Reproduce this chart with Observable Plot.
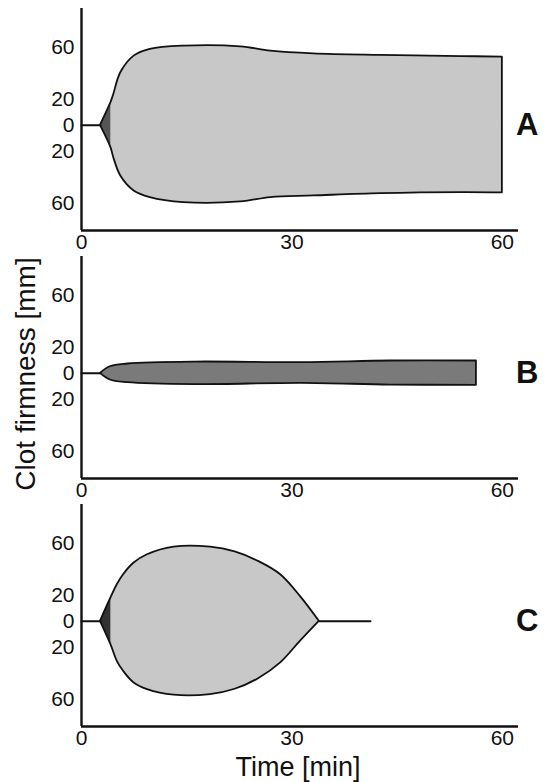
<!DOCTYPE html>
<html>
<head>
<meta charset="utf-8">
<script src="https://cdn.jsdelivr.net/npm/d3@7"></script>
<script src="https://cdn.jsdelivr.net/npm/@observablehq/plot@0.6"></script>
<style>
  html, body { margin: 0; padding: 0; background: #fff; }
  #page { position: relative; width: 554px; height: 782px; overflow: hidden; font-family: "Liberation Sans", Arial, sans-serif; }
  .panel { position: absolute; left: 0; }
  #titles { position: absolute; left: 0; top: 0; pointer-events: none; }
</style>
</head>
<body>
<div id="page"></div>
<script>
// ---- Data ----
const xTicks = [0, 30, 60];
const yTicks = [60, 20, 0, -20, -60];
const panelLetters = ["A", "B", "C"];

// Panel A: normal clot
const timeA  = [2.7, 4.2, 4.6, 5.6, 7.5, 9.8, 14.6, 22.7, 27, 33.1, 42.7, 54.2, 60];
const upperA = [0, 17.5, 23.8, 40.5, 53.3, 58.5, 61, 60.5, 57.2, 55.1, 53.9, 53, 52.5];
const lowerA = [0, 17.2, 24.9, 39, 50.5, 55.6, 59.5, 59, 55.6, 54.4, 52.6, 51.8, 52];
const darkEndA = 4.2;
const baseTimeA = [0, 2.7];

// Panel B: weak clot
const timeB  = [2.7, 4.1, 6.6, 16.2, 31.4, 44.1, 56.3];
const upperB = [0, 5.1, 7.2, 8.7, 8.2, 9.5, 9.5];
const lowerB = [0, 5.1, 7.2, 8.7, 7.7, 9.0, 9.2];
const darkEndB = 2.7;
const baseTimeB = [0, 2.7];

// Panel C: hyperfibrinolysis
const timeC  = [2.7, 4.2, 5.1, 6.0, 7.5, 9.4, 13.2, 18.4, 21.9, 25.3, 28.4, 31.2, 33.9];
const upperC = [0, 18, 28.2, 35.9, 44.9, 51.3, 57.2, 57.2, 53.5, 46, 35.9, 19.2, 0];
const lowerC = [0, 18, 30.8, 38.5, 47.5, 52.6, 56.9, 56.4, 52.3, 44, 32, 15.4, 0];
const darkEndC = 4.2;
const baseTimeC = [0, 2.7];
const tailTimeC = [33.9, 41.2];

// ---- Chart ----
const FONT = "'Liberation Sans', Arial, Helvetica, sans-serif";
const curve = "catmull-rom";

function panel({times, upper, lower, darkEnd, fill, dark, baseTimes, extraTimes, letter}) {
  const rows = times.map((t, i) => ({t, up: upper[i], lo: -lower[i]}));
  const darkRows = rows.filter(r => r.t <= darkEnd);
  const lightRows = rows.filter(r => r.t >= darkEnd);
  const lines = [baseTimes].concat(extraTimes ? [extraTimes] : []);
  const marks = [
    Plot.areaY(lightRows, {x: "t", y1: "lo", y2: "up", fill, curve}),
  ];
  if (darkRows.length > 1) marks.push(Plot.areaY(darkRows, {x: "t", y1: "lo", y2: "up", fill: dark}));
  marks.push(
    Plot.areaY(rows, {x: "t", y1: "lo", y2: "up", fill: "none", stroke: "#111", strokeWidth: 1.8, curve}),
    ...lines.map(ts => Plot.lineY(ts.map(t => ({t, a: 0})), {x: "t", y: "a", stroke: "#111", strokeWidth: 2})),
    Plot.ruleX([0], {stroke: "#111", strokeWidth: 2.4}),
    Plot.ruleY([-81], {stroke: "#111", strokeWidth: 2.4}),
    Plot.axisX(xTicks, {tickSize: 0, tickPadding: 4, fontSize: 21, fill: "#111", label: null}),
    Plot.axisY(yTicks, {tickSize: 0, tickPadding: 7, fontSize: 21, fill: "#111", label: null, tickFormat: d => Math.abs(d)}),
    Plot.text([{l: letter, y: 0}], {text: "l", y: "y", frameAnchor: "right", dx: 20, fontSize: 31, fontWeight: "bold", fill: "#111"})
  );
  return Plot.plot({
    width: 554, height: 248,
    marginTop: 8, marginBottom: 18, marginLeft: 81, marginRight: 36,
    x: {domain: [0, 62.3], label: null},
    y: {domain: [-81, 90], label: null},
    style: {overflow: "visible", fontFamily: FONT, background: "transparent"},
    marks
  });
}

const page = document.getElementById("page");
const specs = [
  {times: timeA, upper: upperA, lower: lowerA, darkEnd: darkEndA, fill: "#c8c8c8", dark: "#555555", baseTimes: baseTimeA, letter: panelLetters[0], top: 0},
  {times: timeB, upper: upperB, lower: lowerB, darkEnd: darkEndB, fill: "#7a7a7a", dark: "#7a7a7a", baseTimes: baseTimeB, letter: panelLetters[1], top: 248},
  {times: timeC, upper: upperC, lower: lowerC, darkEnd: darkEndC, fill: "#c8c8c8", dark: "#333333", baseTimes: baseTimeC, extraTimes: tailTimeC, letter: panelLetters[2], top: 496},
];
for (const s of specs) {
  const wrap = document.createElement("div");
  wrap.className = "panel";
  wrap.style.top = s.top + "px";
  wrap.appendChild(panel(s));
  page.appendChild(wrap);
}

// Axis titles
const svg = d3.select(page).append("svg")
  .attr("id", "titles").attr("width", 554).attr("height", 782)
  .style("font-family", FONT);
svg.append("text")
  .attr("transform", "translate(35,374) rotate(-90)")
  .attr("text-anchor", "middle").attr("font-size", 28).attr("fill", "#111")
  .text("Clot firmness [mm]");
svg.append("text")
  .attr("x", 298).attr("y", 776)
  .attr("text-anchor", "middle").attr("font-size", 27).attr("fill", "#111")
  .text("Time [min]");
</script>
</body>
</html>
